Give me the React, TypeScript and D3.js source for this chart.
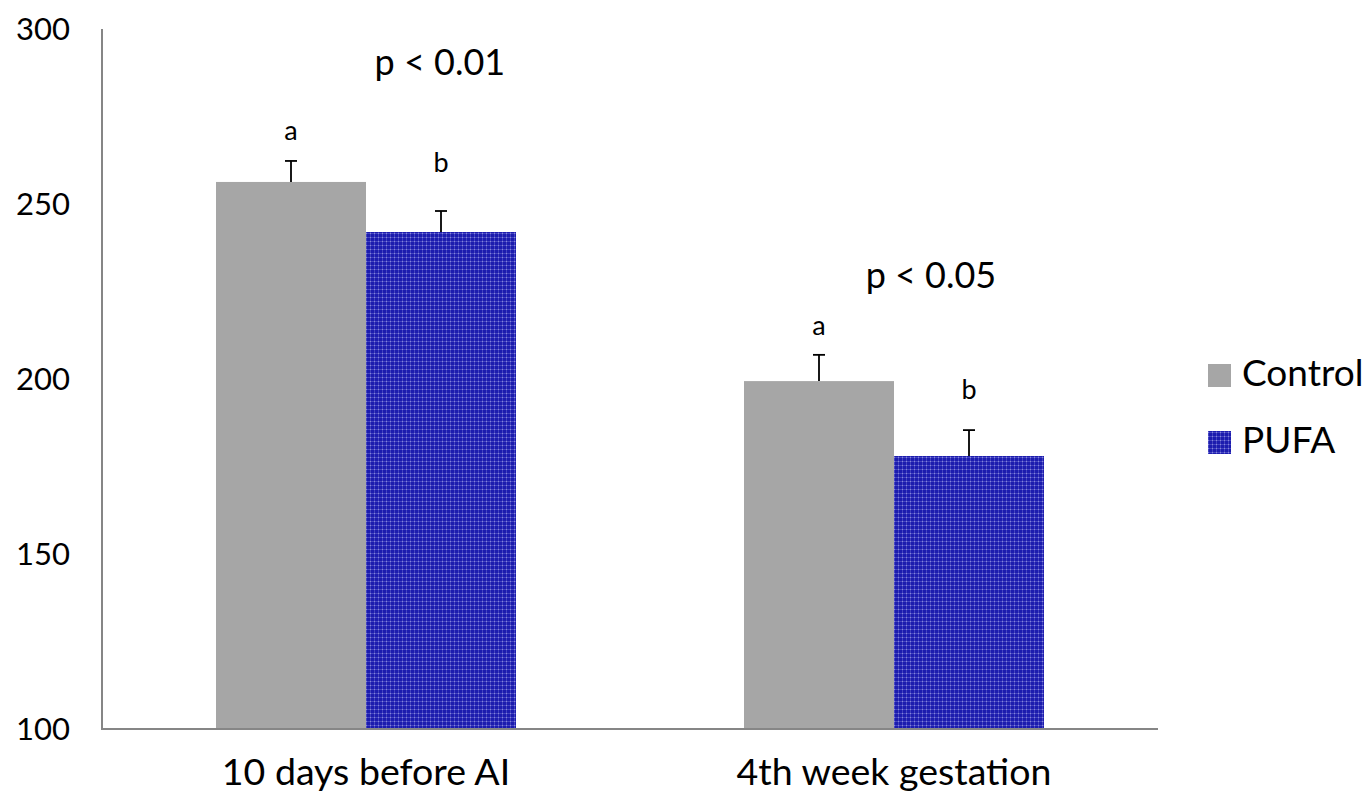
import { useEffect, useRef } from 'react'
import * as d3 from 'd3'

const categories = ['10 days before AI', '4th week gestation']
const groups = ['Control', 'PUFA']
const controlValues = [256.3, 199.4]
const pufaValues = [242, 178]
const controlErrors = [6, 7.5]
const pufaErrors = [6, 7.4]
const letters = [['a', 'b'], ['a', 'b']]
// baseline of each significance letter, in data units
const letterLevels = [[268.3, 259.1], [212.6, 194.3]]
const pLabels = ['p < 0.01', 'p < 0.05']
const pLevels = [286.9, 226]
const pOffsets = [0.14, 0.07] // fraction of category band, right of centre
const yTicks = [100, 150, 200, 250, 300]

export default function App() {
  const svgRef = useRef<SVGSVGElement>(null)

  useEffect(() => {
    if (!svgRef.current) return
    const svg = d3.select(svgRef.current)
    const width = 1369
    const height = 802
    const margin = { top: 29, right: 211, bottom: 73, left: 102 }
    const innerW = width - margin.left - margin.right
    const innerH = height - margin.top - margin.bottom

    svg.selectAll('*').remove()
    svg.attr('width', width).attr('height', height)

    // PUFA fill pattern
    const defs = svg.append('defs')
    const pat = defs
      .append('pattern')
      .attr('id', 'pufa')
      .attr('patternUnits', 'userSpaceOnUse')
      .attr('width', 4)
      .attr('height', 4)
    pat.append('rect').attr('width', 4).attr('height', 4).attr('fill', '#1c1cae')
    pat.append('rect').attr('x', 0).attr('y', 0).attr('width', 4).attr('height', 1).attr('fill', '#4444c0')
    pat.append('rect').attr('x', 0).attr('y', 0).attr('width', 1).attr('height', 4).attr('fill', '#4444c0')
    pat.append('rect').attr('x', 0).attr('y', 0).attr('width', 1).attr('height', 1).attr('fill', '#8585dc')

    const g = svg.append('g').attr('transform', `translate(${margin.left},${margin.top})`)

    const x0 = d3.scaleBand().domain(categories).range([0, innerW]).paddingInner(0).paddingOuter(0)
    const x1 = d3
      .scaleBand()
      .domain(groups)
      .range([0, x0.bandwidth()])
      .paddingInner(0)
      .paddingOuter(0.76)
    const y = d3.scaleLinear().domain([100, 300]).range([innerH, 0])

    const font = 'Lato, "Open Sans", sans-serif'

    // Y tick labels
    g.selectAll('.ytick')
      .data(yTicks)
      .enter()
      .append('text')
      .attr('x', -32)
      .attr('y', (d) => y(d))
      .attr('dy', '0.35em')
      .attr('text-anchor', 'end')
      .attr('font-family', font)
      .attr('font-size', '31px')
      .attr('fill', '#000')
      .text((d) => d)

    const series = [
      { name: 'Control', values: controlValues, errors: controlErrors, fill: '#a6a6a6' },
      { name: 'PUFA', values: pufaValues, errors: pufaErrors, fill: 'url(#pufa)' },
    ]

    series.forEach((s, si) => {
      const sg = g.append('g')
      categories.forEach((c, ci) => {
        const bx = (x0(c) || 0) + (x1(s.name) || 0)
        const bw = x1.bandwidth()
        const v = s.values[ci]
        sg.append('rect')
          .attr('x', bx)
          .attr('y', y(v))
          .attr('width', bw)
          .attr('height', innerH - y(v))
          .attr('fill', s.fill)
        const cx = bx + bw / 2
        const top = y(v + s.errors[ci])
        sg.append('line')
          .attr('x1', cx)
          .attr('x2', cx)
          .attr('y1', y(v))
          .attr('y2', top)
          .attr('stroke', '#000')
          .attr('stroke-width', 1.8)
        sg.append('line')
          .attr('x1', cx - 6)
          .attr('x2', cx + 6)
          .attr('y1', top)
          .attr('y2', top)
          .attr('stroke', '#000')
          .attr('stroke-width', 1.8)
        sg.append('text')
          .attr('x', cx)
          .attr('y', y(letterLevels[ci][si]))
          .attr('text-anchor', 'middle')
          .attr('font-family', font)
          .attr('font-size', '27px')
          .attr('fill', '#000')
          .text(letters[ci][si])
      })
    })

    // p-value labels
    categories.forEach((c, ci) => {
      const cx = (x0(c) || 0) + x0.bandwidth() * (0.5 + pOffsets[ci])
      g.append('text')
        .attr('x', cx)
        .attr('y', y(pLevels[ci]))
        .attr('text-anchor', 'middle')
        .attr('font-family', font)
        .attr('font-size', '36px')
        .attr('fill', '#000')
        .text(pLabels[ci])
    })

    // Axes lines
    g.append('line')
      .attr('x1', 0)
      .attr('x2', 0)
      .attr('y1', 0)
      .attr('y2', innerH)
      .attr('stroke', '#868686')
      .attr('stroke-width', 2)
    g.append('line')
      .attr('x1', -1)
      .attr('x2', innerW)
      .attr('y1', innerH)
      .attr('y2', innerH)
      .attr('stroke', '#868686')
      .attr('stroke-width', 2)

    // Category labels
    g.selectAll('.xlab')
      .data(categories)
      .enter()
      .append('text')
      .attr('x', (d) => (x0(d) || 0) + x0.bandwidth() / 2)
      .attr('y', innerH + 56)
      .attr('text-anchor', 'middle')
      .attr('font-family', font)
      .attr('font-size', '37.5px')
      .attr('fill', '#000')
      .text((d) => d)

    // Legend
    const legend = svg.append('g').attr('transform', 'translate(1208,364)')
    series.forEach((s, i) => {
      legend
        .append('rect')
        .attr('x', 0)
        .attr('y', i * 67)
        .attr('width', 23)
        .attr('height', 23)
        .attr('fill', s.fill)
      legend
        .append('text')
        .attr('x', 34)
        .attr('y', i * 67 + 22)
        .attr('font-family', font)
        .attr('font-size', '37px')
        .attr('fill', '#000')
        .text(s.name)
    })
  }, [])

  return (
    <svg
      ref={svgRef}
      style={{ position: 'absolute', left: 0, top: 0, display: 'block', background: '#fff' }}
    ></svg>
  )
}
